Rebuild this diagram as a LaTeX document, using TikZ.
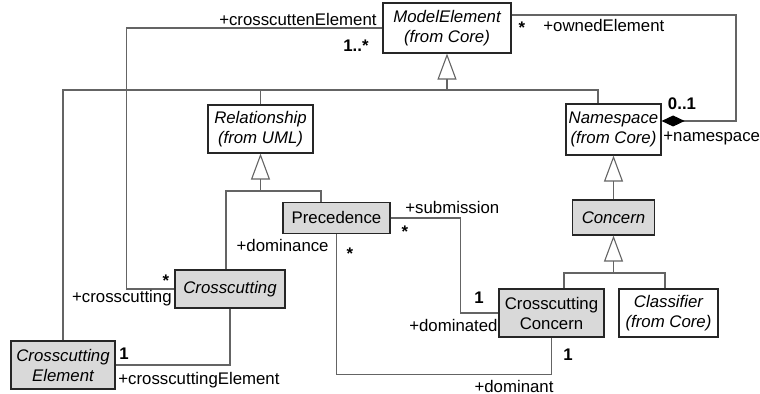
\documentclass[tikz,border=0pt]{standalone}
\usepackage{fontspec}
\setmainfont{Liberation Sans}
\usepackage{tikz}
\usetikzlibrary{arrows.meta, calc}

\definecolor{boxgray}{RGB}{217,217,217}
\definecolor{linegray}{RGB}{100,100,100}

\begin{document}
\begin{tikzpicture}[
    x=0.5pt, y=-0.5pt,
    cls/.style={rectangle, draw=black!85, line width=0.6pt, fill=white, inner sep=1pt, align=center, font=\fontsize{8.4}{10}\selectfont\itshape},
    shaded/.style={cls, fill=boxgray},
    upright/.style={font=\fontsize{8.4}{10}\selectfont},
    genarrow/.style={-{Triangle[open, length=13pt, width=9.5pt]}, draw=linegray, line width=0.55pt},
    assoc/.style={draw=linegray, line width=0.55pt},
    role/.style={font=\fontsize{8.4}{10}\selectfont, inner sep=0pt},
    mult/.style={role, font=\fontsize{8.4}{10}\selectfont\bfseries},
]
\useasboundingbox (0,0) rectangle (760,394);

\node[cls, minimum width=64pt, minimum height=25pt] (model) at (447,28) {ModelElement\\(from Core)};
\node[cls, minimum width=52.5pt, minimum height=24pt] (rel) at (260.5,129) {Relationship\\(from UML)};
\node[cls, minimum width=47.5pt, minimum height=25.5pt] (ns) at (613.5,129.5) {Namespace\\(from Core)};
\node[shaded, upright, minimum width=53.5pt, minimum height=15.5pt] (prec) at (336.5,218) {Precedence};
\node[shaded, minimum width=55pt, minimum height=19pt] (cross) at (230,289) {Crosscutting};
\node[shaded, minimum width=52pt, minimum height=24pt] (celem) at (63,365) {Crosscutting\\Element};
\node[shaded, minimum width=41pt, minimum height=17.5pt] (concern) at (613.5,217.5) {Concern};
\node[shaded, upright, minimum width=52.5pt, minimum height=24pt] (ccon) at (551.5,313) {Crosscutting\\Concern};
\node[cls, minimum width=49.5pt, minimum height=24pt] (classifier) at (668.5,313) {Classifier\\(from Core)};

\coordinate (bar1) at (model.south |- 0,90);
\coordinate (bar2) at (rel.south |- 0,191);
\coordinate (bar3) at (concern.south |- 0,273);

\draw[genarrow] (bar1) -- (model.south);
\draw[assoc] (celem.north) |- (bar1);
\draw[assoc] (rel.north) |- (bar1);
\draw[assoc] ([xshift=-7.75pt]ns.north) |- (bar1);

\draw[genarrow] (bar2) -- (rel.south);
\draw[assoc] ([xshift=-2pt]cross.north) |- (bar2);
\draw[assoc] ([xshift=-7.75pt]prec.north) |- (bar2);

\draw[genarrow] (concern.north) -- (ns.south);
\draw[genarrow] (bar3) -- (concern.south);
\draw[assoc] ([xshift=6.25pt]ccon.north) |- (bar3);
\draw[assoc] ([xshift=-1.75pt]classifier.north) |- (bar3);

\draw[assoc, -{Diamond[length=11.5pt, width=5.5pt, black]}] ([yshift=6.5pt]model.east) -| (736,121) -- ([yshift=4.25pt]ns.east);
\draw[assoc] (model.west) -- ++(-256,0) |- (cross.west);
\draw[assoc] (cross.south) |- (celem.east);
\draw[assoc] (prec.east) -- ++(70,0) |- (ccon.west);
\draw[assoc] (prec.south) -- ++(0,140) -| (ccon.south);

\node[role, anchor=east] (lcrossel) at (377,20) {+crosscuttenElement};
\node[mult] (mcrossel) at (356,46) {1..*};
\node[mult] (mowned) at (522,28) {*};
\node[role, anchor=west] (lowned) at (543,26) {+ownedElement};
\node[mult] (mns) at (682,104) {0..1};
\node[role, anchor=west] (lns) at (663,138) {+namespace};
\node[mult] (mcross) at (166,281) {*};
\node[role, anchor=east] (lcross) at (172,298) {+crosscutting};
\node[mult] (mcelem) at (124,354) {1};
\node[role, anchor=west] (lcelem) at (118,380) {+crosscuttingElement};
\node[role, anchor=east] (ldomce) at (329,246) {+dominance};
\node[mult] (mdomce) at (350,254) {*};
\node[role, anchor=west] (lsubm) at (405,208) {+submission};
\node[mult] (msubm) at (405,232) {*};
\node[mult] (mdomd) at (479,298) {1};
\node[role, anchor=east] (ldomd) at (498,325) {+dominated};
\node[mult] (mdomt) at (568,355) {1};
\node[role] (ldomt) at (514,386) {+dominant};

\end{tikzpicture}
\end{document}
